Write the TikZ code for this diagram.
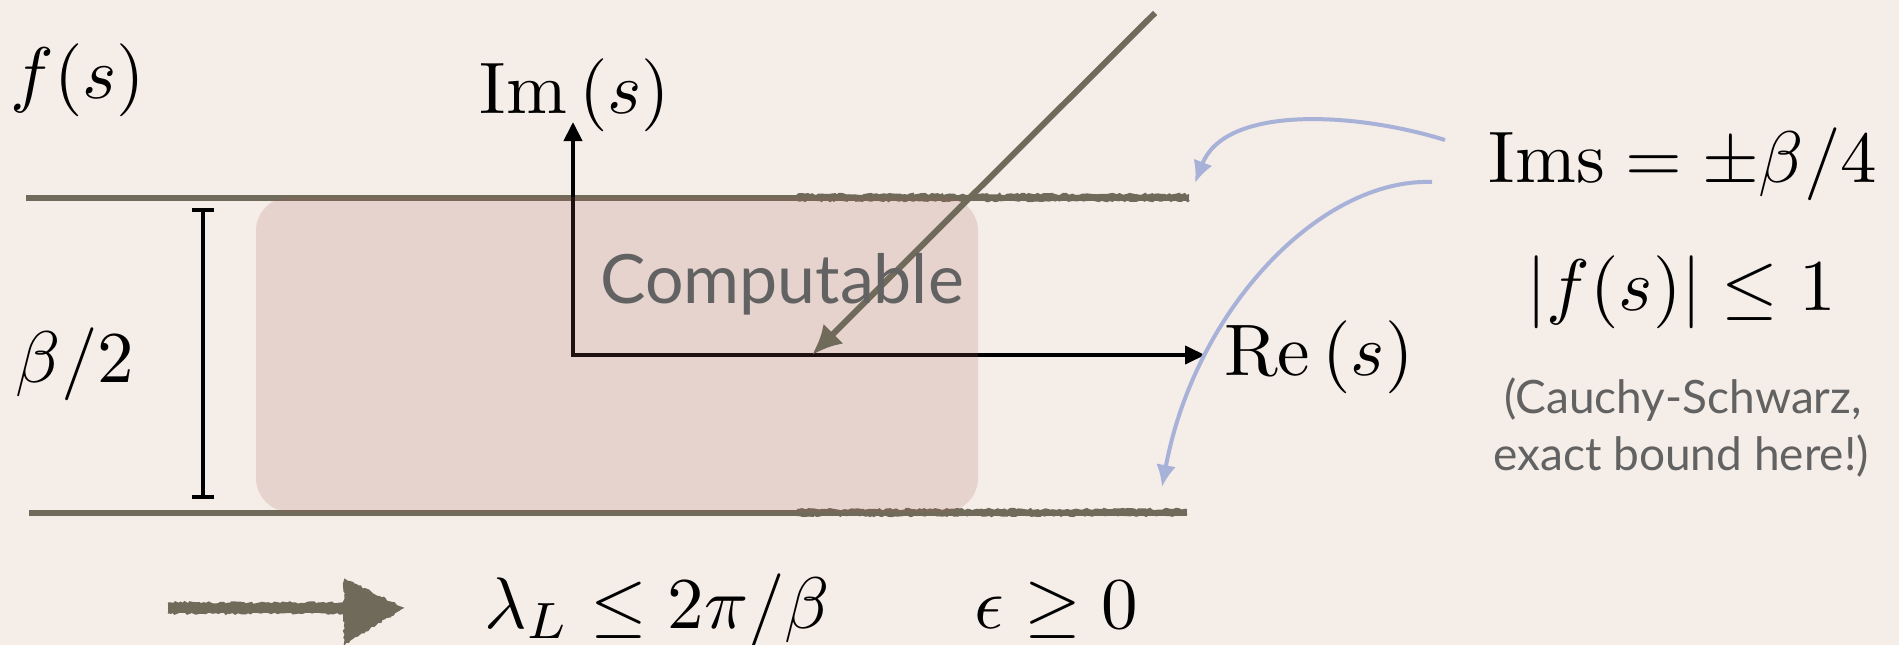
\documentclass[tikz,border=0pt]{standalone}
\usepackage{fontspec}
\newfontfamily\gill{Lato}
\usetikzlibrary{arrows.meta,decorations.pathmorphing}
\newcommand{\mathbig}[1]{\scalebox{7.3}{$#1$}}
\definecolor{bg}{RGB}{245,237,231}
\definecolor{strip}{RGB}{112,106,90}
\definecolor{boxc}{RGB}{167,98,87}
\definecolor{blu}{RGB}{168,178,216}
\definecolor{txtgray}{RGB}{98,98,98}
\tikzset{
  big/.style={font=\fontsize{10}{12}\selectfont, inner sep=0pt},
  compfont/.style={font=\gill\fontsize{68}{74}\selectfont, text=txtgray, inner sep=0pt},
  csfont/.style={font=\gill\fontsize{46}{52}\selectfont, text=txtgray, inner sep=0pt},
  stripline/.style={draw=strip, line width=6pt},
  rough/.style={draw=strip, line width=2pt, decorate,
    decoration={random steps, segment length=2.5pt, amplitude=1.2pt}},
  axes/.style={draw=black, line width=4pt, line join=miter,
    {Triangle[length=19pt,width=18pt]}-{Triangle[length=20pt,width=18pt]}},
  diag/.style={draw=strip, line width=6pt, -{Latex[length=30pt,width=28pt]}},
  hint/.style={draw=blu, line width=4pt, -{Latex[length=22pt,width=20pt]}},
  measure/.style={draw=black, line width=4pt, {Bar[width=22pt]}-{Bar[width=22pt]}},
  compbox/.style={fill=boxc, fill opacity=0.18, rounded corners=34pt},
}
\pgfmathsetseed{42}
\begin{document}
\begin{tikzpicture}[x=1pt,y=-1pt]
\fill[bg] (0,0) rectangle (1899,645);
\useasboundingbox (0,0) rectangle (1899,645);

% strip boundaries
\coordinate (tl) at (26,198);
\coordinate (tr) at (1189,198);
\coordinate (trs) at (797,198);
\coordinate (bl) at (29,513);
\coordinate (br) at (1187,513);
\coordinate (brs) at (797,513);
\draw[stripline] (tl) -- (tr);
\draw[stripline] (bl) -- (br);
\draw[rough] ([yshift=-2pt]trs) -- ([yshift=-2pt]tr);
\draw[rough] ([yshift=3pt]trs) -- ([yshift=3pt]tr);
\draw[rough] ([yshift=-2pt]brs) -- ([yshift=-2pt]br);
\draw[rough] ([yshift=3pt]brs) -- ([yshift=3pt]br);

% axes
\coordinate (O) at (573,355);
\coordinate (imtip) at (573,122);
\coordinate (retip) at (1205,355);
\draw[axes] (imtip) -- (O) -- (retip);

% width measure
\coordinate (mt) at (203,208);
\coordinate (mb) at (203,499);
\draw[measure] (mt) -- (mb);

% computable region
\coordinate (boxnw) at (256,197);
\coordinate (boxse) at (978,512);
\path[compbox] (boxnw) rectangle (boxse);

% diagonal arrow
\coordinate (dstart) at (1155,13);
\coordinate (dtip) at (812,355);
\draw[diag] (dstart) -- (dtip);

% texts
\node[big, anchor=base] (fs) at (78,98) {\mathbig{f(s)}};
\node[big, anchor=base] (imlab) at (575,113) {\mathbig{\mathrm{Im}\,(s)}};
\node[big, anchor=base west] (relab) at (1224,375) {\mathbig{\mathrm{Re}\,(s)}};
\node[big, anchor=base] (ims) at (1683,182) {\mathbig{\mathrm{Ims}=\pm\beta/4}};
\node[big, anchor=base] (bound) at (1681,310) {\mathbig{|f(s)|\le 1}};
\node[csfont, anchor=base] (cs1) at (1683,413) {(Cauchy-Schwarz,};
\node[csfont, anchor=base] (cs2) at (1681,470) {exact bound here!)};
\node[compfont, anchor=base] (comp) at (782,303) {Computable};
\node[big, anchor=base] (half) at (75,382) {\mathbig{\beta/2}};
\node[big, anchor=base] (lam) at (657,628) {\mathbig{\lambda_L\le 2\pi/\beta}};
\node[big, anchor=base] (eps) at (1056,628) {\mathbig{\epsilon\ge 0}};

% hint arrows
\coordinate (h1s) at (1445,140);
\coordinate (h1e) at (1195,183);
\coordinate (h2s) at (1432,182);
\coordinate (h2e) at (1162,487);
\draw[hint] (h1s) .. controls (1355,112) and (1225,105) .. (h1e);
\draw[hint] (h2s) .. controls (1320,178) and (1195,310) .. (h2e);

% implication arrow
\coordinate (as) at (168,608);
\coordinate (ae) at (350,608);
\draw[draw=strip, line width=9pt] (as) -- (ae);
\draw[rough, line width=3pt] ([yshift=-4pt]as) -- ([yshift=-4pt]ae);
\draw[rough, line width=3pt] ([yshift=4pt]as) -- ([yshift=4pt]ae);
\coordinate (ht) at (345,580);
\coordinate (hb) at (345,643);
\coordinate (hp) at (402,608);
\fill[strip] (ht) -- (hp) -- (hb) -- cycle;
\draw[rough, line width=2pt] (ht) -- (hp) -- (hb) -- cycle;
\end{tikzpicture}
\end{document}
